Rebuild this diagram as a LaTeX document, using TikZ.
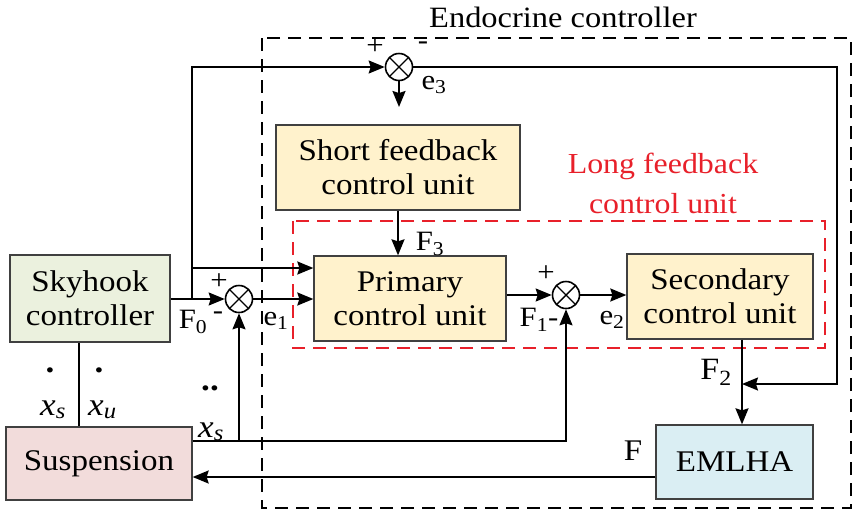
\documentclass[tikz,border=0pt]{standalone}
\usepackage{fontspec}
\setmainfont[FakeStretch=1.1]{Liberation Serif}
\usetikzlibrary{arrows.meta,calc}
\definecolor{skyfill}{HTML}{EBF1DE}
\definecolor{suspfill}{HTML}{F2DCDB}
\definecolor{unitfill}{HTML}{FFF2CC}
\definecolor{emlfill}{HTML}{DAEEF3}
\definecolor{boxline}{HTML}{404040}
\definecolor{lred}{HTML}{E8202A}
\begin{document}
\begin{tikzpicture}[x=1pt,y=-1pt,
  blk/.style={draw=boxline,line width=1.3pt,inner sep=0pt,align=center,
    font=\fontsize{30}{34}\selectfont},
  sumnode/.style={draw,circle,line width=1.6pt,minimum size=27pt,inner sep=0pt,
    path picture={\draw[line width=1.4pt] (path picture bounding box.north west) -- (path picture bounding box.south east)
      (path picture bounding box.north east) -- (path picture bounding box.south west);}},
  conn/.style={line width=1.8pt},
  arr/.style={conn,-{Stealth[length=16pt,width=13pt,inset=2pt]}},
  lbl/.style={inner sep=0pt,font=\fontsize{28}{30}\selectfont},
  sgn/.style={inner sep=0pt,font=\fontsize{28}{28}\selectfont},
  var/.style={inner sep=0pt,anchor=base west,font=\fontsize{32}{34}\selectfont\itshape},
  dotl/.style={inner sep=0pt,font=\fontsize{32}{34}\selectfont\bfseries}]
\useasboundingbox (0,0) rectangle (857,515);
% frames
\draw[line width=1.8pt,dash pattern=on 13pt off 8pt] (262,38) rectangle (851,508);
\node[lbl,font=\fontsize{29.5}{30}\selectfont] (title) at (563,17) {Endocrine controller};
\draw[lred,line width=1.8pt,dash pattern=on 13pt off 8pt] (293,221) rectangle (825,348);
\node[lbl,text=lred,align=center,font=\fontsize{29}{40}\selectfont] (longlbl) at (663,183) {Long feedback\\control unit};
% blocks
\node[blk,fill=skyfill,minimum width=160pt,minimum height=87pt] (sky) at (90,298.5) {Skyhook\\controller};
\node[blk,fill=suspfill,minimum width=186pt,minimum height=73pt] (susp) at (99,463.5) {Suspension};
\node[blk,fill=unitfill,minimum width=244pt,minimum height=85pt] (short) at (398,167.5) {Short feedback\\control unit};
\node[blk,fill=unitfill,minimum width=192pt,minimum height=85pt] (prim) at (410,298.5) {Primary\\control unit};
\node[blk,fill=unitfill,minimum width=186pt,minimum height=85pt] (sec) at (720,296.5) {Secondary\\control unit};
\node[blk,fill=emlfill,minimum width=157pt,minimum height=74pt] (eml) at (734.5,462) {EMLHA};
% summing junctions
\node[sumnode] (s1) at (239,299) {};
\node[sumnode] (s2) at (566,295) {};
\node[sumnode] (s3) at (399,67) {};
% coordinates
\coordinate (j1) at (192,299);
\coordinate (j2) at (192,268);
\coordinate (s3out) at (399,107);
\coordinate (rt) at (837,67);
\coordinate (f2in) at (742,384);
\coordinate (f2x) at (742,0);
\coordinate (fb) at (566,441);
\coordinate (fb1) at (239,441);
\coordinate (sx) at (79,0);
\coordinate (fy) at (0,477);
% connectors
\draw[arr] (sky.east |- s1) -- (s1.west);
\draw[arr] (j1) |- (s3.west);
\draw[arr] (j2) -- (prim.west |- j2);
\draw[arr] (s1.east) -- (prim.west |- s1);
\draw[arr] (s3.south) -- (s3out);
\draw[arr] (s3.east) -- (rt) |- (f2in);
\draw[arr] (short.south) -- (short.south |- prim.north);
\draw[arr] (prim.east |- s2) -- (s2.west);
\draw[arr] (s2.east) -- (sec.west |- s2);
\draw[arr] (sec.south -| f2x) -- (eml.north -| f2x);
\draw[arr] (eml.west |- fy) -- (susp.east |- fy);
\draw[arr] (susp.east |- fb) -- (fb) -- (s2.south);
\draw[arr] (fb1) -- (s1.south);
\draw[conn] (sky.south -| sx) -- (susp.north -| sx);
% labels
\node[sgn] (p1) at (219,282) {+};
\node[sgn] (m1) at (218,316) {-};
\node[lbl] (F0) at (193,322) {F\textsubscript{0}};
\node[lbl] (e1) at (276,321) {e\textsubscript{1}};
\node[sgn] (p3) at (375,47) {+};
\node[sgn] (m3) at (423,46) {-};
\node[lbl] (e3) at (434,85) {e\textsubscript{3}};
\node[lbl] (F3) at (430,244) {F\textsubscript{3}};
\node[sgn] (p2) at (546,274) {+};
\node[lbl] (F1) at (539,320) {F\textsubscript{1}-};
\node[lbl] (e2) at (612,320) {e\textsubscript{2}};
\node[lbl,font=\fontsize{31}{32}\selectfont] (F2) at (716,372) {F\textsubscript{2}};
\node[lbl,font=\fontsize{30}{32}\selectfont] (F) at (633,451) {F};
\node[dotl] (d1) at (50,370) {.};
\node[var] (xs1) at (40,415) {x\textsubscript{s}};
\node[dotl] (d2) at (99,370) {.};
\node[var] (xu) at (88,415) {x\textsubscript{u}};
\node[dotl] (d3) at (210,388) {..};
\node[var] (xs2) at (198,437) {x\textsubscript{s}};
\end{tikzpicture}
\end{document}
